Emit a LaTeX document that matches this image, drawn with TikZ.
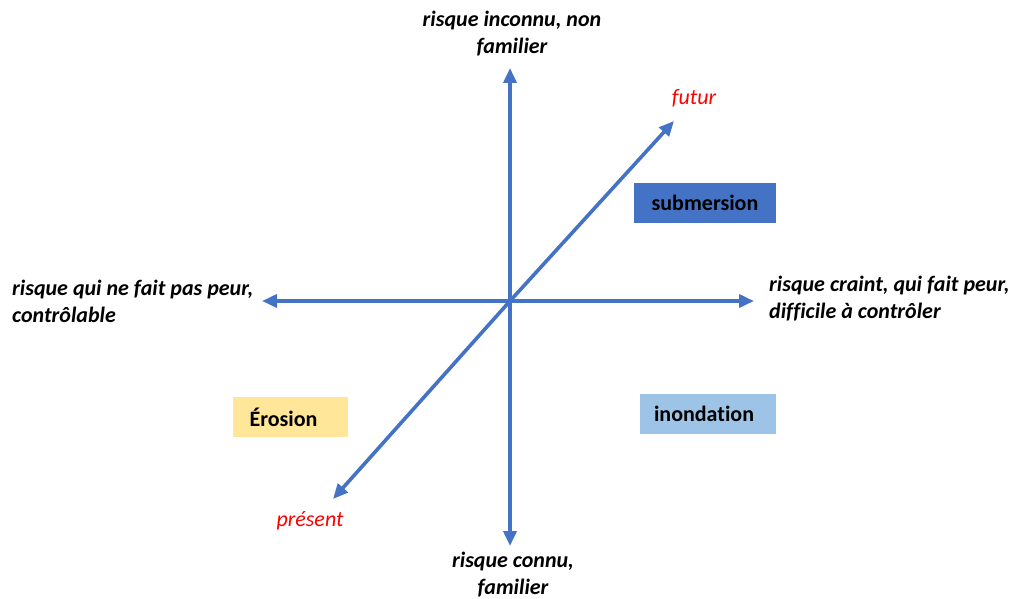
\documentclass[tikz,border=0pt]{standalone}
\usepackage{fontspec}
\setmainfont[Ligatures=NoCommon]{Carlito}
\usetikzlibrary{arrows.meta}
\definecolor{axisblue}{HTML}{4472C4}
\definecolor{boxblue}{HTML}{4472C4}
\definecolor{lightblue}{HTML}{9DC3E6}
\definecolor{lightyellow}{HTML}{FFE699}
\definecolor{futred}{HTML}{FF0000}
\tikzset{
  axis/.style={draw=axisblue, line width=3.6pt, -{Triangle[length=15pt,width=13pt]}},
  lbl/.style={font=\fontsize{22}{27}\selectfont\bfseries\itshape, text=black, inner sep=0pt, align=center},
  redlbl/.style={font=\fontsize{22}{27}\selectfont\itshape, text=futred, inner sep=0pt},
  qbox/.style={font=\fontsize{22}{27}\selectfont\bfseries, text=black, inner sep=0pt, minimum height=40pt},
}
\begin{document}
\begin{tikzpicture}[x=1pt,y=-1pt]
\useasboundingbox (0,0) rectangle (1014,599);
\coordinate (o) at (510,301);
\coordinate (top) at (510,68);
\coordinate (bot) at (510,546);
\coordinate (lft) at (262,301);
\coordinate (rgt) at (754,301);
\coordinate (fut) at (674,121);
\coordinate (pre) at (333,499);
% boxes
\node[qbox, fill=boxblue, minimum width=142pt] (sub) at (705,203) {submersion};
\node[qbox, fill=lightyellow, minimum width=115pt] (ero) at (290.5,417) {\hspace*{-14pt}Érosion};
\node[qbox, fill=lightblue, minimum width=136pt] (ino) at (708,414) {\hspace*{-8pt}inondation};
% axes
\draw[axis] (o) -- (top);
\draw[axis] (o) -- (bot);
\draw[axis] (o) -- (lft);
\draw[axis] (o) -- (rgt);
\draw[axis] (o) -- (fut);
\draw[axis] (o) -- (pre);
% labels
\node[lbl, anchor=center] (tl) at (512,34) {risque inconnu, non\\familier};
\node[lbl, anchor=center] (bl) at (513,575) {risque connu,\\familier};
\node[lbl, anchor=west, align=left] (ll) at (12,301) {risque qui ne fait pas peur,\\contrôlable};
\node[lbl, anchor=west, align=left] (rl) at (769,299) {risque craint, qui fait peur,\\difficile à contrôler};
\node[redlbl] (fl) at (694,98) {futur};
\node[redlbl] (pl) at (310,521) {présent};
\end{tikzpicture}
\end{document}
